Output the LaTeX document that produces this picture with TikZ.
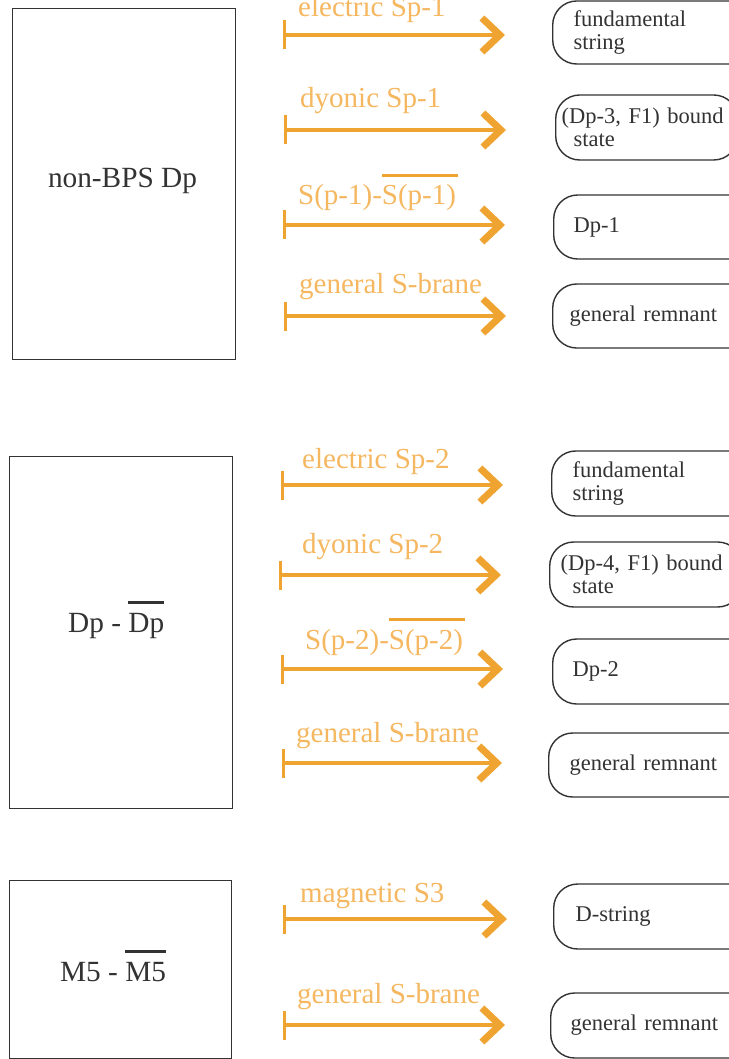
\documentclass[tikz,border=0pt]{standalone}
\usepackage{fontspec}
\setmainfont{LiberationSerif}[Extension=.ttf, UprightFont=*-Regular, BoldFont=*-Bold]
\usetikzlibrary{arrows.meta}
\definecolor{arr}{HTML}{EFA432}
\definecolor{lab}{HTML}{F5B760}
\definecolor{ink}{HTML}{333333}
\newcommand\ovbar[2]{\setbox0\hbox{#2}\leavevmode\rlap{\raisebox{0.96em}{\color{#1}\rule{\wd0}{0.1em}}}\box0}
\tikzset{
  lbox/.style={draw=ink, line width=1pt, anchor=north west, inner sep=0pt},
  bigtxt/.style={text=ink, font=\fontsize{29.3}{31}\selectfont, inner sep=0pt},
  albl/.style={text=lab, font=\fontsize{29}{31}\selectfont, inner sep=0pt, anchor=base west},
  arrowc/.style={draw=arr, line width=3.5pt,
    {Bar[width=29pt,line width=3pt]}-{Straight Barb[length=18pt,width=34pt,line width=7pt]}},
  rbox/.style={draw=ink, line width=1.4pt, rounded corners=24pt, anchor=west,
    text=ink, font=\fontsize{22.5}{23.5}\selectfont, align=left,
    text width=170pt, inner ysep=0pt}
}
\begin{document}
\begin{tikzpicture}[x=1pt,y=-1pt]
\useasboundingbox (0,0) rectangle (728,1059);
\fill[white] (0,0) rectangle (728,1059);

% left boxes
\node[lbox, minimum width=223pt, minimum height=351pt] (L1) at (12,8) {};
\node[bigtxt, anchor=base] (L1t) at (122.5,188) {non-BPS Dp};
\node[lbox, minimum width=223pt, minimum height=352pt] (L2) at (9,456) {};
\node[bigtxt, anchor=base west] (L2t) at (68,632) {Dp - \ovbar{ink}{Dp}};
\node[lbox, minimum width=222pt, minimum height=178pt] (L3) at (9,880) {};
\node[bigtxt, anchor=base west] (L3t) at (60,981) {M5 - \ovbar{ink}{M5}};

% arrows
\coordinate (a1s) at (283,35);   \coordinate (a1e) at (505,35);
\coordinate (a2s) at (284,130);  \coordinate (a2e) at (506,130);
\coordinate (a3s) at (283,225);  \coordinate (a3e) at (505,225);
\coordinate (a4s) at (284,316);  \coordinate (a4e) at (506,316);
\coordinate (a5s) at (281,485);  \coordinate (a5e) at (503,485);
\coordinate (a6s) at (279,575);  \coordinate (a6e) at (501,575);
\coordinate (a7s) at (281,669);  \coordinate (a7e) at (503,669);
\coordinate (a8s) at (282,763);  \coordinate (a8e) at (502,763);
\coordinate (a9s) at (283,919);  \coordinate (a9e) at (507,919);
\coordinate (a10s) at (283,1025); \coordinate (a10e) at (505,1025);
\foreach \i in {1,...,10} { \draw[arrowc] (a\i s) -- (a\i e); }

% arrow labels
\node[albl] (t1) at (298,17) {electric Sp-1};
\node[albl] (t2) at (300,108) {dyonic Sp-1};
\node[albl] (t3) at (298,205) {S(p-1)-\ovbar{arr}{S(p-1)\kern2pt}};
\node[albl] (t4) at (299,293) {general S-brane};
\node[albl] (t5) at (302,468) {electric Sp-2};
\node[albl] (t6) at (302,553) {dyonic Sp-2};
\node[albl] (t7) at (305,649) {S(p-2)-\ovbar{arr}{S(p-2)\kern2pt}};
\node[albl] (t8) at (296,742) {general S-brane};
\node[albl] (t9) at (300,902) {magnetic S3};
\node[albl] (t10) at (297,1003) {general S-brane};

% right boxes
\node[rbox, minimum height=63pt, inner xsep=21pt] (Ra) at (552,32.5) {fundamental\\string};
\node[rbox, minimum height=65pt, inner xsep=6pt] (Rb) at (555,127.5) {(Dp-3, F1) bound\\\hspace*{12pt}state};
\node[rbox, minimum height=64pt, inner xsep=20pt] (Rc) at (553,227) {Dp-1};
\node[rbox, minimum height=64pt, inner xsep=17pt] (Rd) at (552,316) {general remnant};
\node[rbox, minimum height=65pt, inner xsep=21pt] (Re) at (551,483.5) {fundamental\\string};
\node[rbox, minimum height=65pt, inner xsep=11pt] (Rf) at (549,574.5) {(Dp-4, F1) bound\\\hspace*{12pt}state};
\node[rbox, minimum height=65pt, inner xsep=20pt] (Rg) at (552,671.5) {Dp-2};
\node[rbox, minimum height=64pt, inner xsep=21pt] (Rh) at (548,765) {general remnant};
\node[rbox, minimum height=65pt, inner xsep=22pt] (Ri) at (553,916.5) {D-string};
\node[rbox, minimum height=65pt, inner xsep=20pt] (Rj) at (550,1025.5) {general remnant};
\end{tikzpicture}
\end{document}
